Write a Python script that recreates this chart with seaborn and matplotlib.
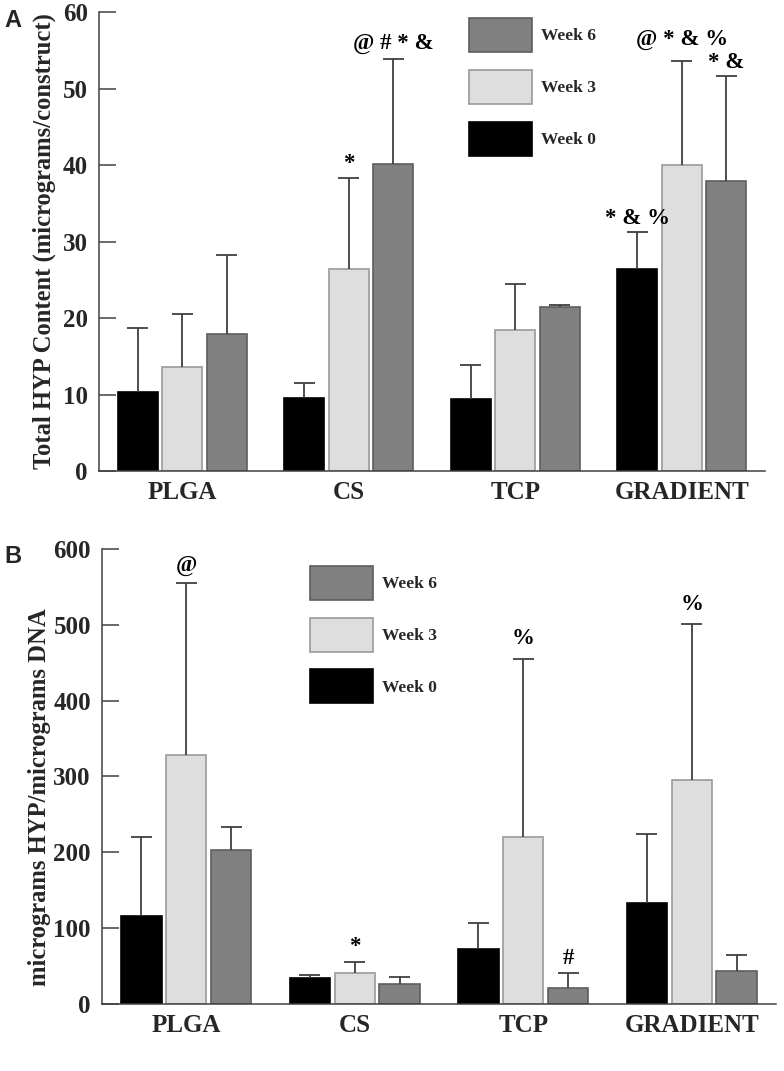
"""Total HYP content and HYP/DNA by scaffold type over 6 weeks."""

import matplotlib.patches as mpatches
import matplotlib.pyplot as plt
import pandas as pd
import seaborn as sns

plt.switch_backend("Agg")

SCAFFOLDS = ["PLGA", "CS", "TCP", "GRADIENT"]
WEEKS = ["Week 0", "Week 3", "Week 6"]

# panel A: total HYP content (micrograms/construct), per week in scaffold order
HYP_WEEK0 = [10.3, 9.6, 9.4, 26.4]
HYP_WEEK3 = [13.65, 26.4, 18.4, 40.0]
HYP_WEEK6 = [17.9, 40.1, 21.4, 37.9]
HYP_SD_WEEK0 = [8.4, 1.9, 4.5, 4.9]
HYP_SD_WEEK3 = [6.85, 11.9, 6.1, 13.6]
HYP_SD_WEEK6 = [10.3, 13.8, 0.3, 13.7]

# panel B: micrograms HYP / micrograms DNA
DNA_WEEK0 = [116.6, 34.8, 72.6, 132.9]
DNA_WEEK3 = [327.8, 41.4, 220.0, 294.8]
DNA_WEEK6 = [202.8, 26.4, 21.6, 43.1]
DNA_SD_WEEK0 = [103.8, 4.0, 33.9, 90.6]
DNA_SD_WEEK3 = [227.0, 14.5, 234.9, 205.9]
DNA_SD_WEEK6 = [30.8, 9.7, 18.9, 22.0]

# significance marks: (scaffold index, week index, text)
HYP_MARKS = [(1, 1, "*"), (1, 2, "@ # * &"), (3, 0, "* & %"),
             (3, 1, "@ * & %"), (3, 2, "* &")]
DNA_MARKS = [(0, 1, "@"), (1, 1, "*"), (2, 1, "%"), (2, 2, "#"), (3, 1, "%")]

FACE_COLORS = ["#000000", "#dedede", "#808080"]
EDGE_COLORS = ["#000000", "#9a9a9a", "#5e5e5e"]
LINE_COLOR = "#404040"
SERIF = "Liberation Serif"


def build_frame(week_values, week_sds):
    rows = []
    for week, values, sds in zip(WEEKS, week_values, week_sds):
        for scaffold, value, sd in zip(SCAFFOLDS, values, sds):
            rows.append({"scaffold": scaffold, "week": week, "value": value, "sd": sd})
    return pd.DataFrame(rows)


def draw_panel(ax, frame, ymax, yticks, ylabel, label_xy, marks, mark_pads, legend_anchor):
    sns.barplot(
        data=frame,
        x="scaffold",
        y="value",
        hue="week",
        order=SCAFFOLDS,
        hue_order=WEEKS,
        palette=FACE_COLORS,
        width=0.8,
        gap=0.1,
        errorbar=None,
        legend=False,
        saturation=1,
        ax=ax,
    )
    cap_half = 0.063
    tops = {}
    for h, container in enumerate(ax.containers):
        week_rows = frame[frame["week"] == WEEKS[h]].reset_index(drop=True)
        for i, bar in enumerate(container):
            bar.set_edgecolor(EDGE_COLORS[h])
            bar.set_linewidth(1.2)
            x = bar.get_x() + bar.get_width() / 2
            top = bar.get_height()
            err_top = top + week_rows.loc[i, "sd"]
            ax.vlines(x, top, err_top, color=LINE_COLOR, lw=1.3, zorder=1)
            ax.hlines(err_top, x - cap_half, x + cap_half, color=LINE_COLOR, lw=1.3, zorder=1)
            tops[(i, h)] = (x, err_top)

    for (i, h, text), pad in zip(marks, mark_pads):
        x, y = tops[(i, h)]
        ax.annotate(text, (x, y), xytext=(0, pad), textcoords="offset points",
                    ha="center", va="bottom", fontsize=16.5, fontweight="bold",
                    family=SERIF, color="black")

    ax.set_xlim(-0.5, 3.5)
    ax.set_ylim(0, ymax)
    ax.set_yticks(yticks)
    ax.set_xlabel("")
    ax.set_ylabel(ylabel, fontsize=17.7, fontweight="bold", family=SERIF)
    ax.yaxis.set_label_coords(*label_xy)
    sns.despine(ax=ax)
    for side in ["left", "bottom"]:
        ax.spines[side].set_color(LINE_COLOR)
        ax.spines[side].set_linewidth(1.1)
    ax.tick_params(axis="y", left=True, direction="in", length=12, width=1.1,
                   color=LINE_COLOR, pad=8)
    ax.tick_params(axis="x", length=0, pad=7)
    for tick in ax.get_xticklabels() + ax.get_yticklabels():
        tick.set_fontsize(18)
        tick.set_fontweight("bold")
        tick.set_family(SERIF)

    handles = [
        mpatches.Patch(facecolor=FACE_COLORS[h], edgecolor=EDGE_COLORS[h], lw=1.2, label=WEEKS[h])
        for h in [2, 1, 0]
    ]
    ax.legend(
        handles=handles,
        loc="upper left",
        bbox_to_anchor=legend_anchor,
        frameon=False,
        handlelength=3.6,
        handleheight=2.63,
        labelspacing=1.03,
        handletextpad=0.55,
        borderpad=0,
        borderaxespad=0,
        prop={"family": SERIF, "weight": "bold", "size": 12.5},
    )


sns.set_style("white")
plt.rcParams["font.family"] = [SERIF, "DejaVu Serif"]

fig = plt.figure(figsize=(7.84, 10.71), dpi=100)
ax_a = fig.add_axes([0.1263, 0.5602, 0.8495, 0.4286])
ax_b = fig.add_axes([0.1301, 0.0626, 0.8597, 0.4248])

hyp_frame = build_frame([HYP_WEEK0, HYP_WEEK3, HYP_WEEK6],
                        [HYP_SD_WEEK0, HYP_SD_WEEK3, HYP_SD_WEEK6])
dna_frame = build_frame([DNA_WEEK0, DNA_WEEK3, DNA_WEEK6],
                        [DNA_SD_WEEK0, DNA_SD_WEEK3, DNA_SD_WEEK6])

draw_panel(ax_a, hyp_frame, 60, range(0, 61, 10),
           "Total HYP Content (micrograms/construct)", (-0.065, 0.5),
           HYP_MARKS, [3, 3, 2, 8, 2], (0.556, 0.987))
draw_panel(ax_b, dna_frame, 600, range(0, 601, 100),
           "micrograms HYP/micrograms DNA", (-0.075, 0.455),
           DNA_MARKS, [5, 3, 7, 3, 7], (0.309, 0.963))

fig.text(0.006, 0.975, "A", family="Liberation Sans", fontweight="bold", fontsize=17)
fig.text(0.006, 0.474, "B", family="Liberation Sans", fontweight="bold", fontsize=17)

fig.savefig("out.png", dpi=100)
plt.close(fig)
